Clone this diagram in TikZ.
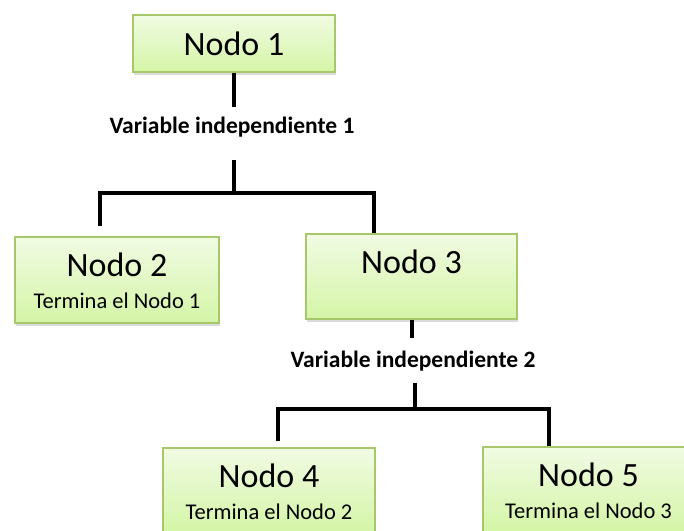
\documentclass[tikz,border=0pt]{standalone}
\usepackage{fontspec}
\setmainfont{Carlito}
\usetikzlibrary{positioning,calc,shadows}

\definecolor{verdeArriba}{HTML}{F1FBE3}
\definecolor{verdeAbajo}{HTML}{D4F5A6}
\definecolor{verdeBorde}{HTML}{A6C86B}

\newcommand{\titulo}{\fontsize{34}{34}\selectfont}
\newcommand{\nodo}[2]{\rule{0pt}{25.4pt}{\titulo #1}\\\mbox{#2}}

\tikzset{
	caja/.style={draw=verdeBorde, line width=1.3pt, top color=verdeArriba, bottom color=verdeAbajo,
		drop shadow={shadow xshift=1pt, shadow yshift=-2.5pt, opacity=.2, fill=black!70},
		align=center, inner sep=0pt, font=\fontsize{22.5}{32}\selectfont},
	varindep/.style={font=\bfseries\fontsize{23.5}{26}\selectfont, inner sep=0pt},
	rama/.style={line width=4pt, line join=miter, line cap=butt},
}

\begin{document}
\begin{tikzpicture}[x=1pt,y=-1pt]
	\useasboundingbox (0,0) rectangle (684,530);
	%Cajas
	%===========================================================
	\node[caja, minimum width=202pt, minimum height=57pt] (nodo1) at (234,43.5) {\titulo Nodo 1};
	\node[caja, minimum width=204pt, minimum height=86pt] (nodo2) at (117,280) {\nodo{Nodo 2}{Termina el Nodo 1}};
	\node[caja, minimum width=211pt, minimum height=85pt] (nodo3) at (411.5,276.5) {\nodo{Nodo 3}{}};
	\node[caja, minimum width=212pt, minimum height=85pt] (nodo4) at (269,490.5) {\nodo{Nodo 4}{Termina el Nodo 2}};
	\node[caja, minimum width=211pt, minimum height=85pt] (nodo5) at (588.5,489.5) {\nodo{Nodo 5}{Termina el Nodo 3}};
	
	%Variables
	\node[varindep, text height=26pt, text depth=27pt] (var1) at (232,133.5) {Variable independiente 1};
	\node[varindep, text height=29pt, text depth=15pt] (var2) at (413,360.3) {Variable independiente 2};
	
	%Ramas
	%===========================================================
	\coordinate (ramaIzq1) at (100,193); %izquierda primera rama
	\coordinate (ramaDer1) at (374,193); %derecha primera rama
	\coordinate (ramaIzq2) at (278,409); %izquierda segunda rama
	\coordinate (ramaDer2) at (549,409); %derecha segunda rama
	
	\draw[rama] (nodo1.south) -- (nodo1.south |- var1.north);
	\draw[rama] (var1.south -| nodo1.south) -- (nodo1.south |- ramaIzq1);
	\draw[rama] ([yshift=10pt]ramaIzq1 |- nodo2.north) -- (ramaIzq1) -- (ramaDer1) -- (ramaDer1 |- nodo3.north);
	
	\draw[rama] (nodo3.south) -- (nodo3.south |- var2.north);
	\draw[rama] ([xshift=3pt]var2.south -| nodo3.south) -- ([xshift=3pt]nodo3.south |- ramaIzq2);
	\draw[rama] ([yshift=6pt]ramaIzq2 |- nodo4.north) -- (ramaIzq2) -- (ramaDer2) -- (ramaDer2 |- nodo5.north);
\end{tikzpicture}
\end{document}
